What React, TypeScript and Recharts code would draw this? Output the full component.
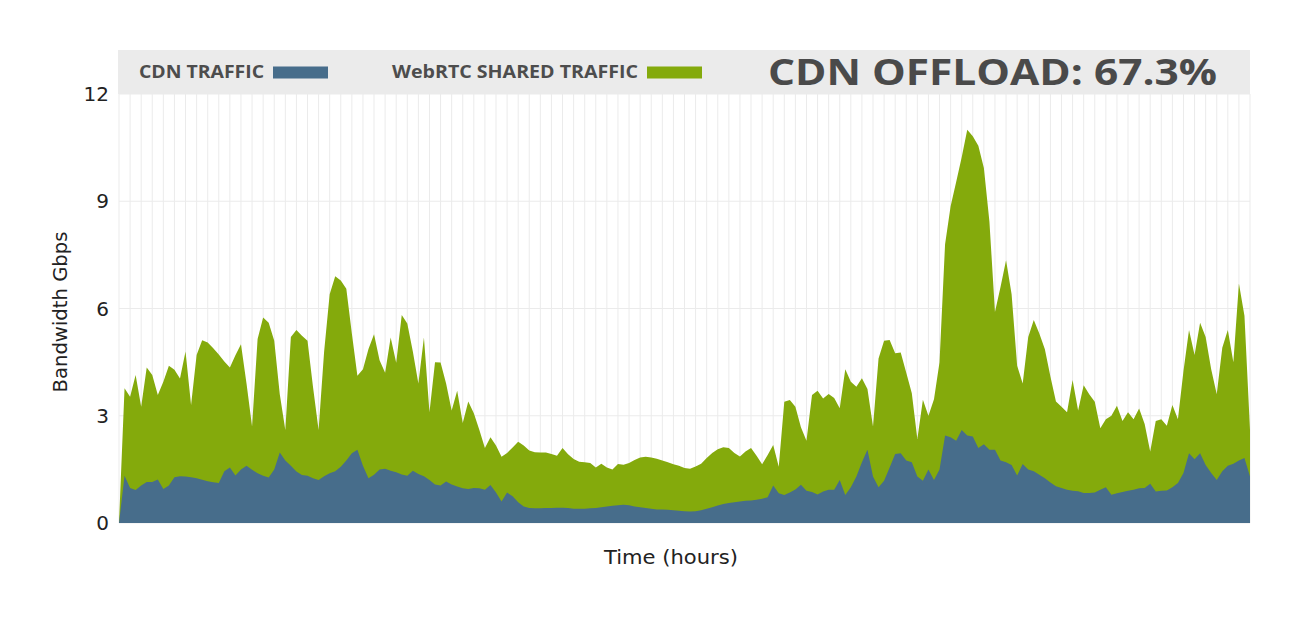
import { Area, AreaChart, CartesianGrid, XAxis, YAxis } from "recharts";

// bandwidth samples, Gbps, one every half grid slot
const totalGbps = [
  0, 3.77, 3.53, 4.14, 3.25, 4.35, 4.14, 3.58, 3.95, 4.4,
  4.29, 4.04, 4.8, 3.3, 4.7, 5.11, 5.05, 4.89, 4.71, 4.52,
  4.35, 4.69, 5.0, 3.9, 2.7, 5.15, 5.75, 5.6, 5.1, 3.6,
  2.6, 5.2, 5.4, 5.24, 5.1, 3.8, 2.6, 4.8, 6.4, 6.9,
  6.78, 6.55, 5.3, 4.12, 4.3, 4.87, 5.28, 4.55, 4.2, 5.19,
  4.48, 5.82, 5.58, 4.8, 3.9, 5.19, 3.1, 4.5, 4.49, 3.9,
  3.15, 3.7, 2.8, 3.4, 3.07, 2.6, 2.1, 2.4, 2.17, 1.85,
  1.96, 2.11, 2.27, 2.17, 2.03, 1.98, 1.97, 1.97, 1.93, 1.88,
  2.1, 1.92, 1.79, 1.71, 1.7, 1.68, 1.55, 1.66, 1.55, 1.5,
  1.65, 1.63, 1.68, 1.76, 1.83, 1.85, 1.83, 1.8, 1.75, 1.7,
  1.64, 1.6, 1.54, 1.52, 1.58, 1.66, 1.82, 1.96, 2.06, 2.12,
  2.1, 1.96, 1.86, 2.0, 2.1, 1.88, 1.64, 1.9, 2.18, 1.57,
  3.39, 3.44, 3.25, 2.68, 2.3, 3.58, 3.7, 3.48, 3.61, 3.5,
  3.21, 4.3, 3.95, 3.81, 4.05, 3.75, 2.7, 4.6, 5.1, 5.12,
  4.75, 4.77, 4.2, 3.63, 2.35, 3.45, 3.0, 3.46, 4.5, 7.8,
  8.86, 9.54, 10.23, 11.0, 10.82, 10.55, 9.93, 8.43, 5.9, 6.6,
  7.35, 6.4, 4.4, 3.9, 5.2, 5.68, 5.3, 4.86, 4.1, 3.4,
  3.25, 3.1, 4.0, 3.15, 3.85, 3.6, 3.39, 2.65, 2.9, 3.0,
  3.28, 2.85, 3.1, 2.9, 3.2, 2.77, 2.0, 2.85, 2.9, 2.72,
  3.3, 2.9, 4.25, 5.4, 4.7, 5.6, 5.2, 4.3, 3.6, 4.9,
  5.4, 4.5, 6.7, 5.8, 2.6,
];

const cdnGbps = [
  0, 1.32, 0.98, 0.92, 1.05, 1.15, 1.15, 1.22, 0.95, 1.05,
  1.28, 1.31, 1.3, 1.28, 1.25, 1.21, 1.17, 1.14, 1.12, 1.45,
  1.55, 1.33, 1.5, 1.6, 1.49, 1.39, 1.32, 1.27, 1.5, 1.97,
  1.75, 1.6, 1.44, 1.34, 1.32, 1.25, 1.2, 1.31, 1.39, 1.45,
  1.57, 1.75, 1.95, 2.05, 1.6, 1.25, 1.35, 1.5, 1.52, 1.46,
  1.42, 1.36, 1.32, 1.46, 1.37, 1.31, 1.2, 1.08, 1.05, 1.16,
  1.08, 1.02, 0.97, 0.95, 0.98, 0.97, 0.93, 1.06, 0.85, 0.6,
  0.85, 0.75, 0.58, 0.46, 0.42, 0.41, 0.41, 0.42, 0.42, 0.43,
  0.43, 0.42, 0.4, 0.4, 0.4, 0.41, 0.42, 0.44, 0.46, 0.48,
  0.5, 0.51, 0.5, 0.46, 0.44, 0.42, 0.4, 0.38, 0.38, 0.37,
  0.36, 0.34, 0.33, 0.32, 0.33, 0.36, 0.4, 0.44, 0.49, 0.53,
  0.56, 0.58, 0.6, 0.62, 0.63, 0.65, 0.68, 0.72, 1.05, 0.83,
  0.78, 0.85, 0.94, 1.07, 0.9, 0.87, 0.8, 0.88, 0.93, 0.93,
  1.2, 0.78, 1.0, 1.3, 1.7, 2.05, 1.3, 1.0, 1.18, 1.55,
  1.93, 1.95, 1.75, 1.7, 1.3, 1.18, 1.5, 1.2, 1.5, 2.45,
  2.4, 2.3, 2.6, 2.45, 2.42, 2.1, 2.2, 2.05, 2.05, 1.75,
  1.7, 1.62, 1.33, 1.65, 1.5, 1.45, 1.35, 1.25, 1.13, 1.03,
  0.98, 0.93, 0.9, 0.89, 0.84, 0.84, 0.85, 0.93, 1.0, 0.79,
  0.83, 0.87, 0.9, 0.93, 0.97, 0.98, 1.1, 0.88, 0.9, 0.91,
  1.0, 1.12, 1.4, 1.95, 1.78, 1.95, 1.62, 1.4, 1.2, 1.45,
  1.6, 1.66, 1.75, 1.82, 1.3,
];

const yTicks = [0, 3, 6, 9, 12];
const lastSlot = totalGbps.length - 1;
const gridSlots = Array.from({ length: lastSlot / 2 + 1 }, (_, i) => i * 2);

const data = totalGbps.map((total, i) => ({ slot: i, total, cdn: cdnGbps[i] }));

const BLUE = "#476d8b";
const GREEN = "#84aa0c";
const LEGEND_FONT = "'Open Sans', 'DejaVu Sans', sans-serif";

const PLOT_LEFT = 111;
const PLOT_WIDTH = 1131;

export default function App() {
  return (
    <div style={{ position: "relative", width: 1292, height: 612, background: "#fff" }}>
      <AreaChart
        width={1292}
        height={612}
        data={data}
        margin={{ top: 86, right: 50, bottom: 0, left: 71 }}
      >
        <CartesianGrid
          stroke="#ebebeb"
          verticalPoints={gridSlots.map((s) => PLOT_LEFT + (s * PLOT_WIDTH) / lastSlot)}
        />
        <XAxis
          dataKey="slot"
          type="number"
          domain={[0, lastSlot]}
          ticks={gridSlots}
          tick={false}
          axisLine={false}
          tickLine={false}
          height={97}
        />
        <YAxis
          domain={[0, 12]}
          ticks={yTicks}
          width={40}
          axisLine={false}
          tickLine={false}
          tickMargin={4}
          tick={{ fill: "#222", fontSize: 20, fontFamily: "DejaVu Sans" }}
        />
        <Area
          type="linear"
          dataKey="total"
          stroke="none"
          fill={GREEN}
          fillOpacity={1}
          dot={false}
          activeDot={false}
          isAnimationActive={false}
        />
        <Area
          type="linear"
          dataKey="cdn"
          stroke="none"
          fill={BLUE}
          fillOpacity={1}
          dot={false}
          activeDot={false}
          isAnimationActive={false}
        />
      </AreaChart>
      <svg
        width={1292}
        height={612}
        style={{ position: "absolute", left: 0, top: 0, pointerEvents: "none" }}
      >
        <rect x={110} y={42} width={1132} height={44} fill="#ebebeb" />
        <text
          x={131}
          y={70}
          fontFamily={LEGEND_FONT}
          fontWeight={700}
          fontSize={17}
          fill="#4d4d4d"
          textLength={125}
          lengthAdjust="spacingAndGlyphs"
        >
          CDN TRAFFIC
        </text>
        <rect x={265} y={58.5} width={55} height={12} fill={BLUE} />
        <text
          x={384}
          y={70}
          fontFamily={LEGEND_FONT}
          fontWeight={700}
          fontSize={17}
          fill="#4d4d4d"
          textLength={246}
          lengthAdjust="spacingAndGlyphs"
        >
          WebRTC SHARED TRAFFIC
        </text>
        <rect x={639} y={58.5} width={55} height={12} fill={GREEN} />
        <text
          x={760}
          y={77}
          fontFamily={LEGEND_FONT}
          fontWeight={700}
          fontSize={36}
          fill="#4a4a4a"
          textLength={449}
          lengthAdjust="spacingAndGlyphs"
        >
          CDN OFFLOAD: 67.3%
        </text>
        <text
          x={52}
          y={304}
          transform="rotate(-90 52 304)"
          textAnchor="middle"
          dominantBaseline="central"
          fontFamily="DejaVu Sans"
          fontSize={19}
          fill="#222"
          textLength={161}
          lengthAdjust="spacingAndGlyphs"
        >
          Bandwidth Gbps
        </text>
        <text
          x={663}
          y={549}
          textAnchor="middle"
          dominantBaseline="central"
          fontFamily="DejaVu Sans"
          fontSize={19}
          fill="#222"
          textLength={134}
          lengthAdjust="spacingAndGlyphs"
        >
          Time (hours)
        </text>
      </svg>
    </div>
  );
}
